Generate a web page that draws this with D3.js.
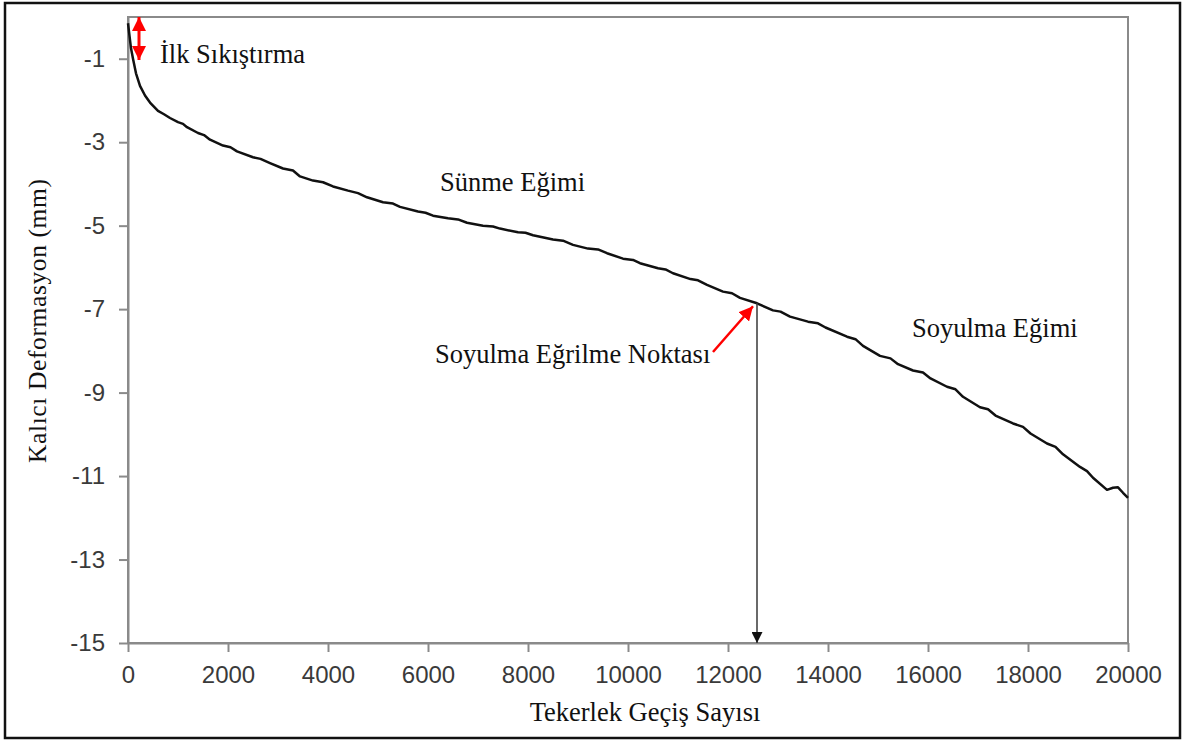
<!DOCTYPE html>
<html>
<head>
<meta charset="utf-8">
<script src="https://cdn.jsdelivr.net/npm/d3@7/dist/d3.min.js"></script>
<style>
  html, body { margin: 0; padding: 0; background: #fff; }
  svg { display: block; }
</style>
</head>
<body>
<svg id="chart" width="1187" height="740"></svg>
<script>
// Wheel passes (x) and permanent deformation in mm (y)
const passes = [0, 30, 60, 100, 160, 240, 340, 440, 600, 720, 840, 1000, 1100, 1180, 1400, 1520,
  1640, 1900, 2050, 2180, 2500, 2650, 2840, 3100, 3300, 3440, 3700, 3900, 4100, 4400, 4600, 4780,
  5100, 5300, 5440, 5800, 5950, 6100, 6400, 6600, 6780, 7100, 7300, 7440, 7800, 7950, 8100, 8500,
  8700, 8900, 9200, 9400, 9580, 9900, 10100, 10240, 10600, 10750, 10900, 11250, 11400, 11580,
  11900, 12080, 12240, 12580, 12900, 13050, 13240, 13600, 13800, 13950, 14380, 14550, 14700,
  15040, 15250, 15400, 15700, 15900, 16050, 16380, 16550, 16700, 17040, 17200, 17350, 17700,
  17900, 18050, 18380, 18550, 18700, 19040, 19180, 19300, 19580, 19700, 19800, 19900, 20000];
const deformation = [-0.15, -0.45, -0.75, -1.0, -1.35, -1.65, -1.88, -2.05, -2.25, -2.33, -2.42,
  -2.52, -2.56, -2.64, -2.78, -2.83, -2.94, -3.08, -3.12, -3.22, -3.36, -3.40, -3.50, -3.63, -3.68,
  -3.82, -3.92, -3.96, -4.06, -4.16, -4.22, -4.32, -4.44, -4.47, -4.55, -4.66, -4.69, -4.76, -4.82,
  -4.85, -4.93, -5.00, -5.02, -5.07, -5.16, -5.17, -5.23, -5.33, -5.36, -5.46, -5.55, -5.57, -5.66,
  -5.79, -5.82, -5.90, -6.02, -6.05, -6.14, -6.28, -6.31, -6.42, -6.58, -6.62, -6.73, -6.86, -7.03,
  -7.06, -7.18, -7.30, -7.34, -7.44, -7.66, -7.72, -7.88, -8.12, -8.18, -8.32, -8.47, -8.52, -8.66,
  -8.86, -8.92, -9.10, -9.35, -9.40, -9.55, -9.74, -9.82, -9.98, -10.22, -10.30, -10.48, -10.78,
  -10.88, -11.04, -11.33, -11.28, -11.27, -11.40, -11.52];

const xTicks = [0, 2000, 4000, 6000, 8000, 10000, 12000, 14000, 16000, 18000, 20000];
const yTicks = [-1, -3, -5, -7, -9, -11, -13, -15];

// Stripping inflection point
const inflectionPass = 12580;
const inflectionDef = -6.86;

const svg = d3.select("#chart");
const W = 1187, H = 740;
const margin = { left: 128, top: 17, right: W - 1128, bottom: H - 643 };

const x = d3.scaleLinear().domain([0, 20000]).range([margin.left, W - margin.right]);
const y = d3.scaleLinear().domain([-15, 0]).range([H - margin.bottom, margin.top]);

const serif = "'Liberation Serif', 'Times New Roman', serif";
const sans = "'Liberation Sans', Arial, sans-serif";

// outer frame
svg.append("rect")
  .attr("x", 5).attr("y", 3).attr("width", 1175).attr("height", 735)
  .attr("fill", "none").attr("stroke", "#111").attr("stroke-width", 2.5);

// plot frame
svg.append("rect")
  .attr("x", x(0)).attr("y", y(0))
  .attr("width", x(20000) - x(0)).attr("height", y(-15) - y(0))
  .attr("fill", "none").attr("stroke", "#8a8a8a").attr("stroke-width", 2);

// axes
const xAxis = d3.axisBottom(x).tickValues(xTicks).tickSize(9).tickSizeOuter(0).tickPadding(14)
  .tickFormat(d3.format("d"));
const yAxis = d3.axisLeft(y).tickValues(yTicks).tickSize(9).tickSizeOuter(0).tickPadding(14)
  .tickFormat(d => String(d).replace("−", "-"));

const gx = svg.append("g").attr("transform", `translate(0,${y(-15)})`).call(xAxis);
const gy = svg.append("g").attr("transform", `translate(${x(0)},0)`).call(yAxis);
[gx, gy].forEach(g => {
  g.select(".domain").attr("stroke", "#8a8a8a").attr("stroke-width", 2);
  g.selectAll(".tick line").attr("stroke", "#8a8a8a").attr("stroke-width", 2);
  g.selectAll(".tick text").attr("fill", "#3a3a3a")
    .style("font-family", sans).style("font-size", "24px");
});

// axis titles
svg.append("text")
  .attr("x", 645).attr("y", 721)
  .attr("text-anchor", "middle")
  .style("font-family", serif).style("font-size", "26.5px").attr("fill", "#111")
  .text("Tekerlek Geçiş Sayısı");

svg.append("text")
  .attr("transform", "translate(46,321) rotate(-90)")
  .attr("text-anchor", "middle")
  .attr("textLength", 284).attr("lengthAdjust", "spacing")
  .style("font-family", serif).style("font-size", "25.5px").attr("fill", "#111")
  .text("Kalıcı Deformasyon (mm)");

// arrow markers
const defs = svg.append("defs");
defs.append("marker").attr("id", "redHead")
  .attr("viewBox", "0 0 10 10").attr("refX", 10).attr("refY", 5)
  .attr("markerWidth", 14).attr("markerHeight", 14).attr("markerUnits", "userSpaceOnUse")
  .attr("orient", "auto-start-reverse")
  .append("path").attr("d", "M0,0 L10,5 L0,10 Z").attr("fill", "#f00");
defs.append("marker").attr("id", "blackHead")
  .attr("viewBox", "0 0 10 10").attr("refX", 10).attr("refY", 5)
  .attr("markerWidth", 11).attr("markerHeight", 11).attr("markerUnits", "userSpaceOnUse")
  .attr("orient", "auto")
  .append("path").attr("d", "M0,0 L10,5 L0,10 Z").attr("fill", "#111");

// deformation curve
const pts = passes.map((p, i) => [p, deformation[i]]);
svg.append("path")
  .datum(pts)
  .attr("fill", "none").attr("stroke", "#111").attr("stroke-width", 2.5)
  .attr("stroke-linejoin", "round")
  .attr("d", d3.line().x(d => x(d[0])).y(d => y(d[1])));

// initial compaction double arrow
svg.append("line")
  .attr("x1", x(220)).attr("x2", x(220))
  .attr("y1", y(0) ).attr("y2", y(-1.03))
  .attr("stroke", "#f00").attr("stroke-width", 3)
  .attr("marker-start", "url(#redHead)").attr("marker-end", "url(#redHead)");

// vertical drop line from the inflection point to the x axis
svg.append("line")
  .attr("x1", x(inflectionPass)).attr("x2", x(inflectionPass))
  .attr("y1", y(inflectionDef)).attr("y2", y(-15))
  .attr("stroke", "#444").attr("stroke-width", 1.6)
  .attr("marker-end", "url(#blackHead)");

// red pointer to the inflection point
svg.append("line")
  .attr("x1", 713).attr("y1", 352)
  .attr("x2", x(inflectionPass) - 4).attr("y2", y(inflectionDef) + 3)
  .attr("stroke", "#f00").attr("stroke-width", 2.5)
  .attr("marker-end", "url(#redHead)");

// annotations
const notes = [
  { text: "İlk Sıkıştırma", x: 160, y: 63 },
  { text: "Sünme Eğimi", x: 440, y: 191 },
  { text: "Soyulma Eğrilme Noktası", x: 435, y: 363 },
  { text: "Soyulma Eğimi", x: 912, y: 337 }
];
svg.selectAll("text.note").data(notes).enter().append("text")
  .attr("class", "note")
  .attr("x", d => d.x).attr("y", d => d.y)
  .style("font-family", serif).style("font-size", "26.5px").attr("fill", "#111")
  .text(d => d.text);
</script>
</body>
</html>
